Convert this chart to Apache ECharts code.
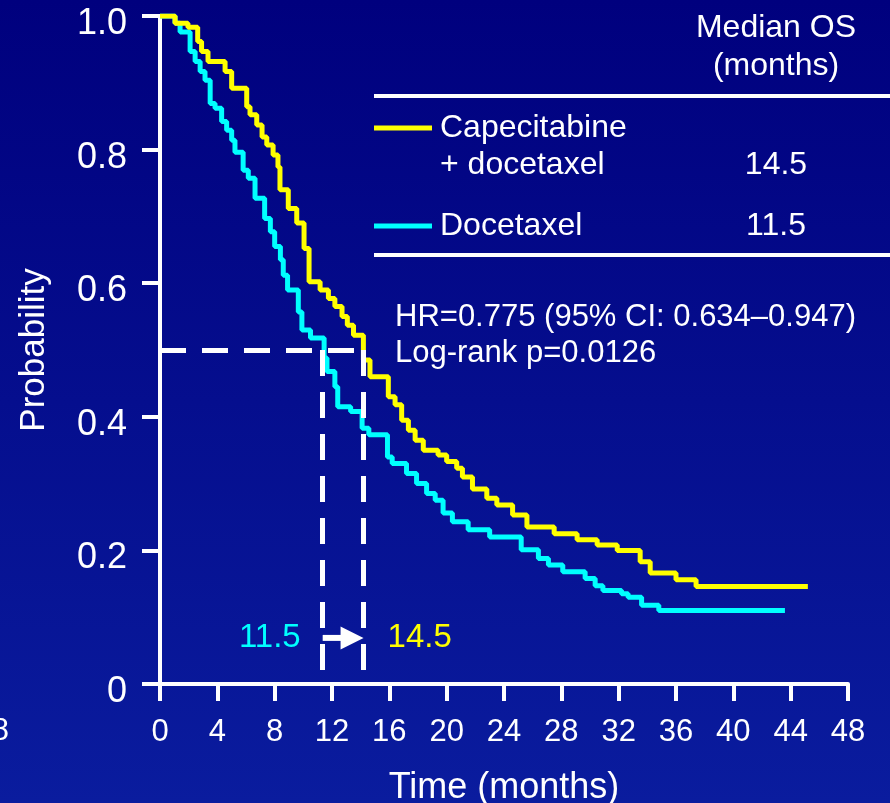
<!DOCTYPE html>
<html><head><meta charset="utf-8">
<script src="https://cdn.jsdelivr.net/npm/echarts@6/dist/echarts.min.js"></script>
<style>html,body{margin:0;padding:0;background:#00007f}#c{width:890px;height:803px}</style>
</head><body><div id="c"></div>
<script>
// ---- data ----
const xTicks = [0,4,8,12,16,20,24,28,32,36,40,44,48];
const yTickLabels = ['0','0.2','0.4','0.6','0.8','1.0'];
const seriesNames = ['Capecitabine + docetaxel','Docetaxel'];
const medianText = ['14.5','11.5'];
// visual positions of the median drop lines on the time axis (months)
const medianX = [14.2, 11.35];
const capeDoc = [[0,1.0],[1.05,0.989],[1.95,0.983],[2.63,0.962],[2.9,0.947],[3.35,0.932],[4.54,0.917],[5.0,0.892],[6.05,0.864],[6.28,0.852],[6.75,0.837],[7.12,0.819],[7.45,0.807],[7.89,0.792],[8.23,0.774],[8.37,0.740],[8.95,0.712],[9.54,0.690],[10.05,0.652],[10.4,0.602],[11.17,0.590],[11.75,0.577],[12.2,0.565],[12.7,0.550],[13.07,0.537],[13.5,0.522],[14.19,0.485],[14.65,0.460],[15.93,0.430],[16.4,0.418],[16.86,0.395],[17.33,0.380],[17.8,0.365],[18.37,0.350],[19.4,0.343],[20.0,0.333],[20.7,0.323],[21.1,0.310],[21.8,0.292],[22.8,0.278],[23.5,0.268],[24.6,0.253],[25.6,0.235],[27.5,0.225],[29.1,0.216],[30.5,0.208],[31.9,0.200],[33.5,0.183],[34.2,0.166],[36.0,0.156],[37.4,0.146],[45.2,0.146]];
const docOnly = [[0,1.0],[1.05,0.989],[1.4,0.976],[2.1,0.947],[2.45,0.932],[2.8,0.917],[3.14,0.904],[3.5,0.869],[3.84,0.862],[4.3,0.842],[4.65,0.829],[5.0,0.814],[5.23,0.796],[5.8,0.769],[6.16,0.757],[6.63,0.727],[7.3,0.697],[7.7,0.677],[8.0,0.655],[8.4,0.635],[8.6,0.612],[8.9,0.590],[9.65,0.557],[9.9,0.530],[10.5,0.518],[11.45,0.488],[11.65,0.468],[12.2,0.445],[12.4,0.415],[13.3,0.408],[14.1,0.383],[14.57,0.373],[15.87,0.340],[16.2,0.330],[17.2,0.315],[17.9,0.300],[18.6,0.285],[19.2,0.275],[19.75,0.256],[20.4,0.243],[21.5,0.231],[23.0,0.220],[25.2,0.201],[26.4,0.188],[27.1,0.178],[28.1,0.168],[29.66,0.158],[30.36,0.147],[30.9,0.140],[32.2,0.135],[32.66,0.130],[33.6,0.118],[34.8,0.110],[43.6,0.110]];
const hrText = 'HR=0.775 (95% CI: 0.634\u20130.947)';
const pText = 'Log-rank p=0.0126';
const arrowY = 0.069;

// ---- styles ----
const YEL = '#ffff00', CY = '#00ffff', WH = '#ffffff';
const FONT = '"Liberation Sans", Arial, sans-serif';

const chart = echarts.init(document.getElementById('c'), null, {renderer:'canvas'});
const txt = (t, x, y, align, color, size) => ({type:'text', x, y, style:{text:t, fill:color||WH, font:(size||32)+'px '+FONT, align:align||'left', verticalAlign:'middle'}, z:10});
const ln = (x1,y1,x2,y2,color,w) => ({type:'line', shape:{x1,y1,x2,y2}, style:{stroke:color, lineWidth:w}, z:10});

const option = {
  backgroundColor: {type:'linear', x:0, y:0, x2:0, y2:1, colorStops:[{offset:0,color:'#00007e'},{offset:1,color:'#0a1c9e'}]},
  animation:false,
  grid:{left:160, right:42, top:16, bottom:119, containLabel:false, outerBoundsMode:'none'},
  xAxis:{type:'value', min:0, max:48, interval:4,
    name:'Time (months)', nameLocation:'middle', nameGap:86,
    nameTextStyle:{color:WH, fontFamily:FONT, fontSize:36},
    axisLine:{onZero:false, lineStyle:{color:WH, width:4}},
    axisTick:{length:17, lineStyle:{color:WH, width:4}},
    axisLabel:{color:WH, fontFamily:FONT, fontSize:31, margin:33,
      customValues: xTicks, formatter:v=>String(v)},
    splitLine:{show:false}},
  yAxis:{type:'value', min:0, max:1, interval:0.2,
    name:'Probability', nameLocation:'middle', nameGap:108, nameRotate:90,
    nameTextStyle:{color:WH, fontFamily:FONT, fontSize:35},
    axisLine:{onZero:false, lineStyle:{color:WH, width:4}},
    axisTick:{length:18, lineStyle:{color:WH, width:4}},
    axisLabel:{color:WH, fontFamily:FONT, fontSize:36, margin:33, verticalAlign:'top', lineHeight:16,
      formatter:v=>yTickLabels[Math.round(v*5)]},
    splitLine:{show:false}},
  series:[
    {name:seriesNames[1], type:'line', step:'end', data:docOnly, showSymbol:false, symbol:'none',
      lineStyle:{color:CY, width:5}, z:3},
    {name:seriesNames[0], type:'line', step:'end', data:capeDoc, showSymbol:false, symbol:'none',
      lineStyle:{color:YEL, width:5}, z:4},
    {type:'line', data:[], z:5,
      markLine:{silent:true, symbol:['none','none'], label:{show:false},
        lineStyle:{color:WH, width:5, type:[26,16]},
        data:[
          [{coord:[0,0.5]},{coord:[medianX[0],0.5]}],
          [{coord:[medianX[1],0.5]},{coord:[medianX[1],0]}],
          [{coord:[medianX[0],0.5]},{coord:[medianX[0],0]}]
        ]}},
    {type:'custom', z:6, silent:true, data:[[medianX[1], medianX[0], arrowY]],
      renderItem:(params, api)=>{
        const p0 = api.coord([api.value(0), api.value(2)]);
        const p1 = api.coord([api.value(1), api.value(2)]);
        const head = 23, half = 11.5, th = 6;
        return {type:'group', children:[
          {type:'rect', shape:{x:p0[0], y:p0[1]-th/2, width:(p1[0]-head)-p0[0]+1, height:th}, style:{fill:WH}},
          {type:'polygon', shape:{points:[[p1[0]-head,p0[1]-half],[p1[0],p0[1]],[p1[0]-head,p0[1]+half]]}, style:{fill:WH}}
        ]};
      }},
    {type:'scatter', symbolSize:0, z:7, silent:true, itemStyle:{opacity:1},
      data:[{value:[medianX[1],arrowY], label:{show:true, position:'left', distance:22, formatter:medianText[1], color:CY, textBorderWidth:0, fontFamily:FONT, fontSize:33}},
            {value:[medianX[0],arrowY], label:{show:true, position:'right', distance:24, formatter:medianText[0], color:YEL, textBorderWidth:0, fontFamily:FONT, fontSize:33}}]}
  ],
  graphic:[
    txt('Median OS', 776, 28, 'center'),
    txt('(months)', 776, 66, 'center'),
    ln(374, 96, 890, 96, WH, 4),
    ln(374, 128, 432, 128, YEL, 5),
    txt('Capecitabine', 440, 128),
    txt('+ docetaxel', 440, 165),
    txt(medianText[0], 776, 165, 'center'),
    ln(374, 226, 432, 226, CY, 5),
    txt(seriesNames[1], 440, 226),
    txt(medianText[1], 776, 226, 'center'),
    ln(374, 255, 890, 255, WH, 4),
    txt(hrText, 395, 317, 'left', WH, 31),
    txt(pText, 395, 353, 'left', WH, 31),
    {type:'text', x:9, y:731, style:{text:'8', fill:WH, font:'31px '+FONT, align:'right', verticalAlign:'middle'}, z:10}
  ]
};
chart.setOption(option);
</script></body></html>
